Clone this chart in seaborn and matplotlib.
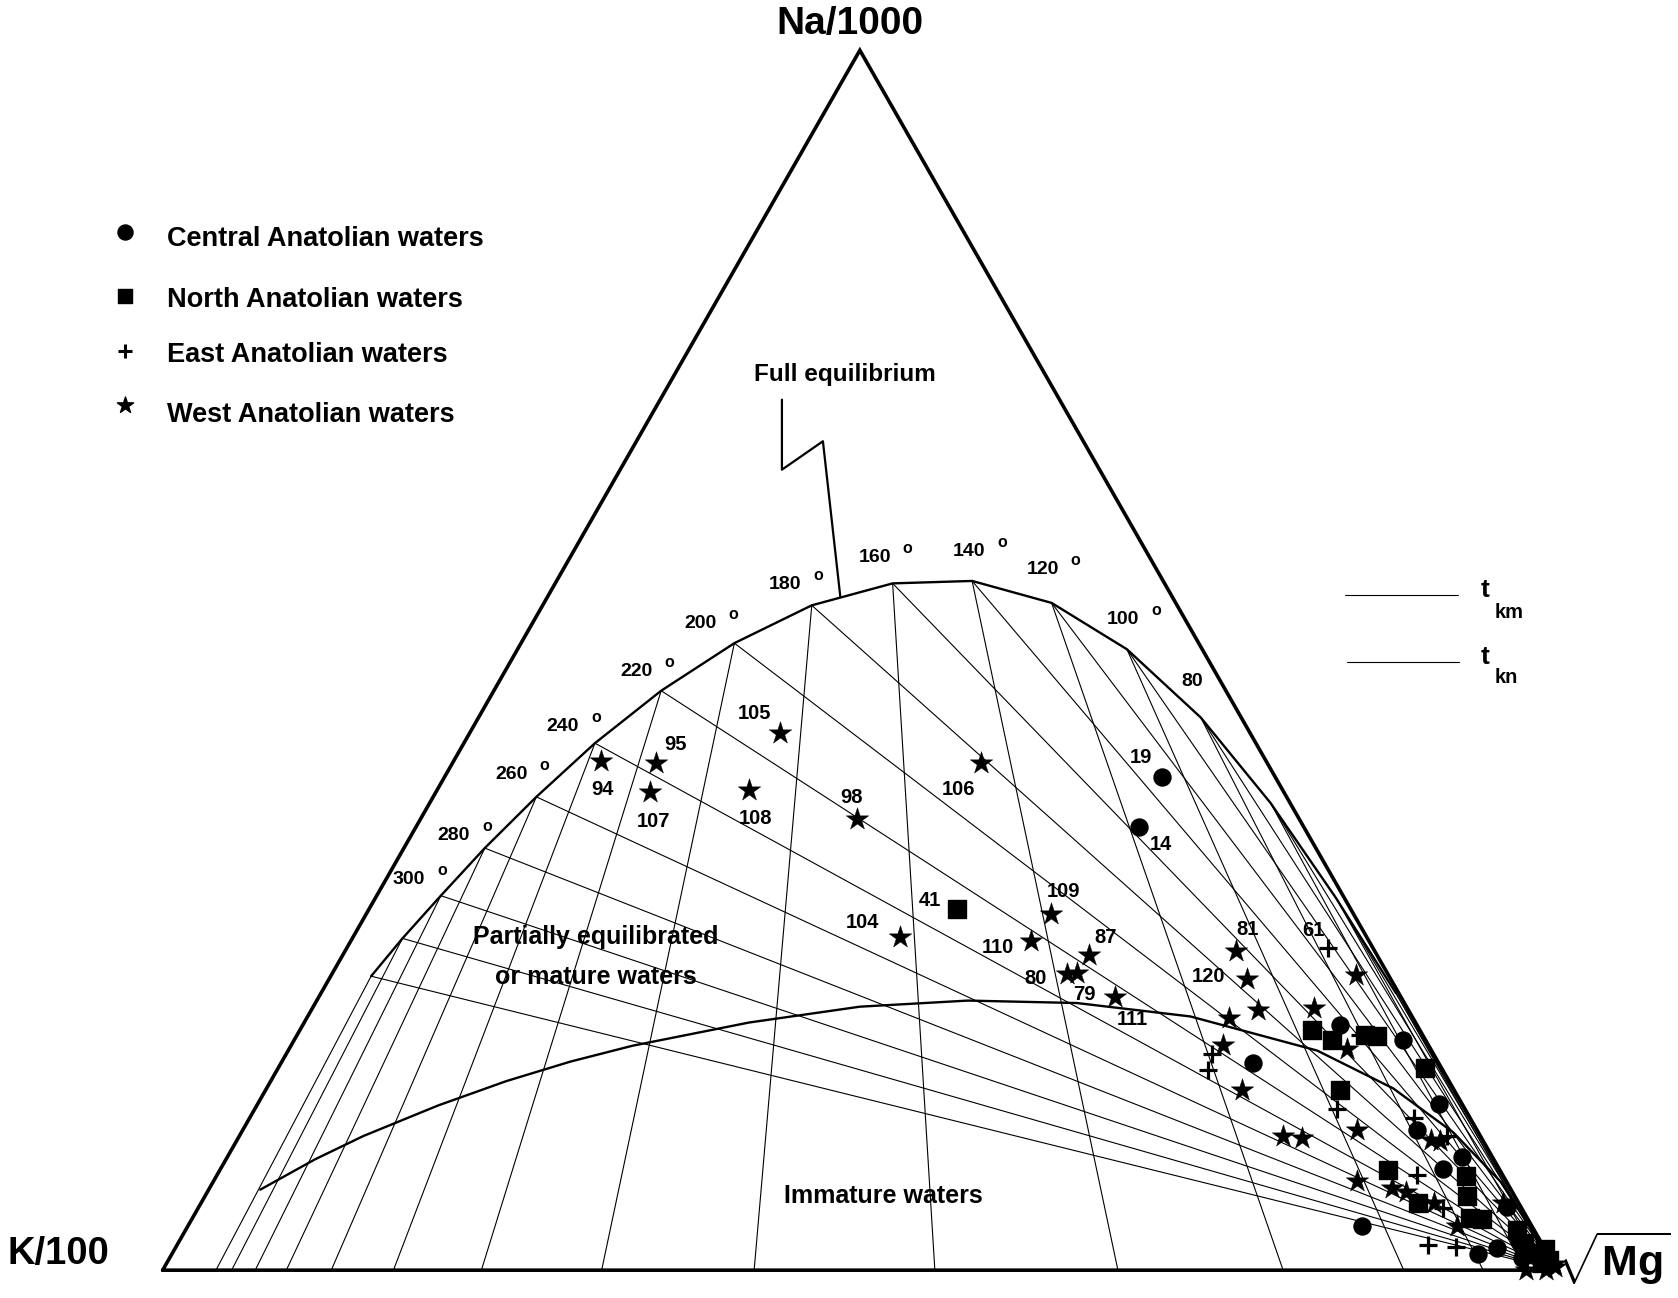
import numpy as np
import pandas as pd
import matplotlib
matplotlib.use("Agg")
import matplotlib.pyplot as plt
import seaborn as sns

# Na-K-Mg ternary (Giggenbach), values in % of Na/1000 + K/100 + sqrt(Mg)

# full equilibrium curve nodes
eq_temp = [340, 320, 300, 280, 260, 240, 220, 200, 180, 160, 140, 120, 100, 80, 60, 40, 20]
eq_na = [24.1, 27.2, 30.7, 34.6, 38.8, 43.2, 47.5, 51.4, 54.5, 56.3, 56.5, 54.7, 50.9, 45.3, 38.3, 30.5, 22.7]
eq_k = [73.0, 69.2, 64.7, 59.6, 53.8, 47.4, 40.5, 33.3, 26.2, 19.5, 13.7, 8.9, 5.4, 2.9, 1.4, 0.6, 0.2]
eq_mg = [2.9, 3.6, 4.6, 5.8, 7.4, 9.4, 12.0, 15.3, 19.3, 24.2, 29.8, 36.4, 43.7, 51.8, 60.3, 68.9, 77.1]
temp_labels = [300, 280, 260, 240, 220, 200, 180, 160, 140, 120, 100, 80]

# boundary of immature waters
imm_na = [6.6, 9.1, 11.0, 13.5, 15.5, 17.1, 18.4, 20.3, 21.6, 22.1, 21.9, 20.8, 18.0, 14.9, 11.3, 7.2, 0.0]
imm_k = [89.7, 84.5, 80.1, 73.5, 67.6, 62.2, 57.1, 47.8, 39.2, 31.2, 23.5, 15.9, 8.2, 4.3, 1.8, 0.4, 0.0]
imm_mg = [3.7, 6.4, 8.9, 13.0, 16.9, 20.7, 24.5, 31.9, 39.2, 46.7, 54.6, 63.3, 73.8, 80.8, 86.9, 92.4, 100.0]

# Central Anatolian waters
central_na = [40.4, 36.3, 20.1, 18.9, 17.0, 13.6, 11.5, 9.3, 8.3, 3.6, 1.3, 1.8, 5.2, 2.4, 1.0]
central_k = [8.1, 11.8, 5.5, 1.6, 13.3, 1.7, 4.3, 2.2, 4.0, 12.2, 5.0, 3.4, 1.0, 1.5, 2.0]
central_mg = [51.5, 51.9, 74.4, 79.5, 69.7, 84.7, 84.1, 88.5, 87.7, 84.2, 93.7, 94.8, 93.8, 96.1, 97.0]
central_id = ['19', '14'] + [''] * 13

# North Anatolian waters
north_na = [29.6, 19.7, 18.9, 19.3, 19.2, 16.6, 14.8, 8.2, 7.7, 6.1, 5.5, 4.3, 4.2, 3.3, 2.2, 1.4, 1.7, 0.6, 0.8]
north_k = [28.2, 7.7, 6.7, 4.1, 3.3, 1.2, 8.2, 8.0, 2.7, 3.4, 7.2, 4.1, 3.3, 1.2, 1.3, 1.2, 0.0, 0.8, 0.2]
north_mg = [42.2, 72.6, 74.4, 76.6, 77.5, 82.3, 77.0, 83.8, 89.6, 90.5, 87.3, 91.6, 92.5, 95.5, 96.5, 97.4, 98.3, 98.6, 99.0]
north_id = ['41'] + [''] * 18

# East Anatolian waters
east_na = [26.4, 19.3, 17.7, 16.4, 13.2, 12.5, 11.0, 7.8, 5.1, 2.1, 1.9]
east_k = [3.2, 4.5, 15.9, 16.8, 9.2, 4.0, 2.4, 6.1, 5.6, 8.2, 6.3]
east_mg = [70.4, 76.2, 66.4, 66.8, 77.6, 83.5, 86.6, 86.0, 89.3, 89.7, 91.8]
east_id = ['61'] + [''] * 10

# West Anatolian waters
west_na = [41.7, 41.6, 39.2, 44.0, 39.4, 37.0, 41.6, 27.3, 29.2, 27.0, 25.8, 24.3, 24.4, 22.4, 26.2, 23.9,
           21.3, 20.7, 24.2, 21.5, 18.1, 18.5, 14.8, 11.5, 11.0, 10.8, 10.7, 10.6, 7.3, 6.7, 6.4, 5.5, 3.6,
           5.5, 0.6, 0.5, 0.0, 0.3, 1.5, 0.0]
west_k = [47.7, 43.8, 45.5, 33.7, 38.3, 31.7, 20.5, 33.5, 21.7, 24.2, 20.7, 23.0, 22.2, 20.5, 9.9, 10.3,
          10.8, 13.2, 2.3, 6.7, 6.0, 14.7, 15.2, 8.6, 14.1, 12.9, 3.7, 3.1, 10.7, 8.5, 7.6, 6.1, 5.4,
          1.1, 1.1, 0.0, 2.2, 0.0, 0.4, 0.8]
west_mg = [10.6, 14.6, 15.4, 22.3, 22.4, 31.3, 37.9, 39.2, 49.1, 48.8, 53.5, 52.7, 53.4, 57.2, 63.9, 65.8,
           67.9, 66.1, 73.5, 71.8, 75.9, 66.9, 70.0, 79.9, 74.8, 76.3, 85.6, 86.3, 82.0, 84.8, 86.0, 88.4,
           91.0, 93.4, 98.3, 99.5, 97.8, 99.7, 98.1, 99.2]
west_id = ['94', '95', '107', '105', '108', '98', '106', '104', '109', '110', '87', '80', '79', '111',
           '81', '120'] + [''] * 24


def tern(na, k, mg):
    na, k, mg = (np.asarray(v, dtype=float) for v in (na, k, mg))
    tot = na + k + mg
    return (mg + na / 2) / tot, na / tot


def group_frame(na, k, mg, ids):
    x, y = tern(na, k, mg)
    return pd.DataFrame({"x": x, "y": y, "id": ids})


groups = {
    "central": group_frame(central_na, central_k, central_mg, central_id),
    "north": group_frame(north_na, north_k, north_mg, north_id),
    "east": group_frame(east_na, east_k, east_mg, east_id),
    "west": group_frame(west_na, west_k, west_mg, west_id),
}

sns.set_theme(style="white")
plt.rcParams["font.family"] = ["Liberation Sans", "DejaVu Sans"]
plt.rcParams["font.weight"] = "bold"
plt.rcParams["text.color"] = "black"
plt.rcParams["mathtext.fontset"] = "custom"
plt.rcParams["mathtext.rm"] = "Liberation Sans"
plt.rcParams["mathtext.bf"] = "Liberation Sans:bold"

fig = plt.figure(figsize=(16.78, 12.98), dpi=100)
ax = fig.add_axes([0, 0, 1, 1])
ax.set_xlim(-0.11665, 1.08672)
ax.set_ylim(-0.02281, 1.04123)
ax.axis("off")

# triangle
ax.plot([0, 1, 0.5, 0], [0, 0, 1, 0], color="black", lw=2.6, solid_joinstyle="miter", zorder=3)

# isotherms: t_km lines run towards the Na apex, t_kn lines to the Mg corner
ex, ey = tern(eq_na, eq_k, eq_mg)
for i in range(len(eq_temp)):
    base = eq_mg[i] / (eq_k[i] + eq_mg[i])
    ax.plot([ex[i], base], [ey[i], 0], color="black", lw=0.8, zorder=1)
    ax.plot([ex[i], 1], [ey[i], 0], color="black", lw=0.8, zorder=1)

sns.lineplot(x=ex, y=ey, sort=False, estimator=None, color="black", lw=1.7, ax=ax, zorder=2)
ix, iy = tern(imm_na, imm_k, imm_mg)
sns.lineplot(x=ix, y=iy, sort=False, estimator=None, color="black", lw=1.7, ax=ax, zorder=2)

# temperature labels
temp_off = {300: (-32, 16), 280: (-31, 13), 260: (-25, 22), 240: (-32, 17), 220: (-25, 19),
            200: (-34, 20), 180: (-27, 21), 160: (-18, 26), 140: (-3, 29), 120: (-9, 33),
            100: (-4, 30), 80: (-9, 36)}
for t in temp_labels:
    i = eq_temp.index(t)
    dx, dy = temp_off[t]
    ax.annotate(str(t), (ex[i], ey[i]), xytext=(dx, dy), textcoords="offset pixels",
                ha="center", va="center", fontsize=14, fontweight="bold")
    if t != 80:
        ax.annotate("o", (ex[i], ey[i]), xytext=(dx + 33, dy + 9), textcoords="offset pixels",
                    ha="center", va="center", fontsize=11.5, fontweight="bold")

# samples
styles = {
    "central": dict(marker="o", s=150),
    "north": dict(marker="s", s=150),
    "east": dict(marker="+", s=170, linewidth=2.3),
    "west": dict(marker="*", s=290, linewidth=0.3),
}
for name, df in groups.items():
    sns.scatterplot(data=df, x="x", y="y", color="black", edgecolor="black", legend=False,
                    ax=ax, zorder=4, **styles[name])

id_off = {'94': (1, -28), '95': (19, 18), '107': (3, -29), '105': (-26, 20), '108': (6, -28),
          '98': (-6, 21), '106': (-23, -27), '19': (-22, 20), '14': (21, -17), '104': (-37, 15),
          '41': (-28, 9), '109': (13, 22), '110': (-34, -7), '87': (17, 18), '80': (-31, -5),
          '79': (7, -22), '111': (17, -22), '81': (11, 21), '120': (-38, 2), '61': (-15, 18)}
for df in groups.values():
    for _, r in df[df["id"] != ""].iterrows():
        ax.annotate(r["id"], (r["x"], r["y"]), xytext=id_off[r["id"]], textcoords="offset pixels",
                    ha="center", va="center", fontsize=14.5, fontweight="bold", zorder=5)

# full equilibrium leader
ax.plot([0.4441, 0.4441, 0.4735, 0.4860], [0.7136, 0.6562, 0.6795, 0.5518],
        color="black", lw=1.6, zorder=2)
ax.text(0.4889, 0.7342, "Full equilibrium", ha="center", va="center", fontsize=17.5)
ax.text(0.3108, 0.2735, "Partially equilibrated", ha="center", va="center", fontsize=18)
ax.text(0.3108, 0.2404, "or mature waters", ha="center", va="center", fontsize=18)
ax.text(0.5165, 0.0605, "Immature waters", ha="center", va="center", fontsize=18)

# corner labels
ax.text(0.4927, 1.0219, "Na/1000", ha="center", va="center", fontsize=28)
ax.text(-0.0744, 0.0132, "K/100", ha="center", va="center", fontsize=27.5)
ax.text(1.0400, 0.0100, r"$\sqrt{\mathbf{Mg}}$", ha="center", va="center", fontsize=31)

# legend
leg_names = ["Central Anatolian waters", "North Anatolian waters",
             "East Anatolian waters", "West Anatolian waters"]
leg_style = [dict(marker="o", s=117), dict(marker="s", s=88),
             dict(marker="+", s=100, linewidth=2.2), dict(marker="*", s=150)]
leg_my = [0.8509, 0.7989, 0.7532, 0.7096]
leg_ty = [0.8454, 0.7956, 0.7505, 0.7013]
for name, st, my, ty in zip(leg_names, leg_style, leg_my, leg_ty):
    ax.scatter([-0.0269], [my], color="black", **st)
    ax.text(0.0030, ty, name, ha="left", va="center", fontsize=19.5)

# isotherm key
ax.plot([0.848, 0.9286], [0.5535, 0.5535], color="black", lw=0.8)
ax.plot([0.8496, 0.930], [0.4982, 0.4982], color="black", lw=0.8)
ax.text(0.9455, 0.5520, "t", ha="left", va="baseline", fontsize=19)
ax.text(0.9555, 0.5350, "km", ha="left", va="baseline", fontsize=14.5)
ax.text(0.9455, 0.4967, "t", ha="left", va="baseline", fontsize=19)
ax.text(0.9555, 0.4810, "kn", ha="left", va="baseline", fontsize=14.5)

fig.savefig("out.png", dpi=100, facecolor="white")
